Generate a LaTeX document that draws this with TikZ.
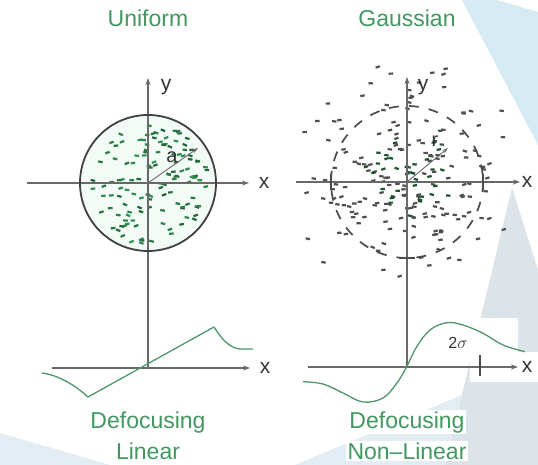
\documentclass[tikz,border=0pt]{standalone}
\usepackage{fontspec}
\setmainfont{Liberation Sans}
\usetikzlibrary{arrows.meta}
\definecolor{tgreen}{RGB}{66,152,96}
\definecolor{cgreen}{RGB}{78,150,108}
\definecolor{axisgray}{RGB}{105,105,105}
\definecolor{dotgreen}{RGB}{50,150,85}
\definecolor{dotgray}{RGB}{80,80,80}
\definecolor{bgblue}{RGB}{213,234,242}
\definecolor{bggray}{RGB}{221,228,233}
\definecolor{bglight}{RGB}{226,236,243}
\definecolor{mint}{RGB}{242,251,245}
\begin{document}
\begin{tikzpicture}[x=1pt,y=-1pt,
  title/.style={font=\fontsize{23}{25}\selectfont, text=tgreen, fill=white, inner sep=1.5pt, anchor=base},
  axlabel/.style={font=\fontsize{21}{23}\selectfont, text=black!80, inner sep=0pt},
  axisline/.style={draw=axisgray, line width=1.2pt, -{Stealth[length=7pt,width=5pt]}},
  curve/.style={draw=cgreen, line width=1.3pt, line join=round},
  radarrow/.style={draw=axisgray, line width=0.9pt, -{Stealth[length=6pt,width=4pt]}},
  tickmark/.style={draw=black!70, line width=2pt}]
\useasboundingbox (0,0) rectangle (538,465);
\fill[white] (0,0) rectangle (538,465);
% background shapes
\fill[bgblue] (462,0) -- (497,0) -- (538,12) -- (538,145) -- cycle;
\fill[bggray] (512,188) -- (538,270) -- (538,465) -- (445,465) -- cycle;
\fill[bglight] (295,465) -- (462,395) -- (445,465) -- cycle;
\fill[bglight] (0,433) -- (110,465) -- (0,465) -- cycle;
\fill[white] (470,318) rectangle (518,382);
\fill[white] (512,352) rectangle (538,382);

% ---------------- Uniform ----------------
\coordinate (LO) at (148,183);
\coordinate (LXs) at (27,183);
\coordinate (LXe) at (249,183);
\coordinate (LYt) at (148,78);
\coordinate (LO2) at (148,368);
\coordinate (LAe) at (198,148);
\fill[mint] (LO) circle (68);
\pgfmathsetseed{4711}
\foreach \i in {1,...,125}{
  \pgfmathsetmacro\ang{360*rnd}
  \pgfmathsetmacro\rad{61*sqrt(rnd)}
  \pgfmathsetmacro\rot{50*(rnd-0.5)}
  \pgfmathtruncatemacro\pct{65+35*rnd}
  \fill[dotgreen!\pct!black, shift={({148+\rad*cos(\ang)},{183+\rad*sin(\ang)})}, rotate=\rot] (-2.3,-1.1) rectangle (2.3,1.1);
}
\draw[axisline] (LXs) -- (LXe);
\draw[axisline] (LO2) -- (LYt);
\draw[draw=black!75, line width=1.8pt] (LO) circle (68);
\draw[radarrow] (LO) -- (LAe);
\node[axlabel] (lx) at (264,183) {x};
\node[axlabel] (ly) at (166,87) {y};
\node[axlabel, font=\fontsize{20}{22}\selectfont] (la) at (172,157) {a};

% lower left plot
\coordinate (LLXs) at (52,368);
\coordinate (LLXe) at (250,368);
\draw[axisline] (LLXs) -- (LLXe);
\node[axlabel] (llx) at (265,368) {x};
\draw[curve] (42,373) .. controls (58,375) and (75,385) .. (88,397) -- (214,327)
  .. controls (221,338) and (229,348) .. (240,349) -- (253,349);

% ---------------- Gaussian ----------------
\coordinate (RO) at (407,182);
\coordinate (RXs) at (296,182);
\coordinate (RXe) at (520,182);
\coordinate (RYt) at (407,77);
\coordinate (RO2) at (407,367);
\coordinate (RAe) at (448,148);
\foreach \i in {1,...,200}{
  \pgfmathsetmacro\ua{0.0005+0.9995*rnd}
  \pgfmathsetmacro\ang{360*rnd}
  \pgfmathsetmacro\rad{58*sqrt(-2*ln(\ua))}
  \pgfmathsetmacro\rot{40*(rnd-0.5)}
  \pgfmathsetmacro\px{407+\rad*cos(\ang)}
  \pgfmathsetmacro\py{182+\rad*sin(\ang)}
  \pgfmathtruncatemacro\ok{and(\rad<122,and(and(\px>304,\px<516),and(\py>62,\py<278)))}
  \ifnum\ok=1
    \fill[dotgray, shift={(\px,\py)}, rotate=\rot] (-2.2,-1.1) rectangle (2.2,1.1);
  \fi
}
\foreach \i in {1,...,35}{
  \pgfmathsetmacro\ua{0.0005+0.9995*rnd}
  \pgfmathsetmacro\ang{360*rnd}
  \pgfmathsetmacro\rad{22*sqrt(-2*ln(\ua))}
  \pgfmathsetmacro\rot{40*(rnd-0.5)}
  \fill[dotgreen!55!black, shift={({407+\rad*cos(\ang)},{182+\rad*sin(\ang)})}, rotate=\rot] (-2.2,-1.1) rectangle (2.2,1.1);
}
\draw[draw=black!70, line width=1.7pt, dash pattern=on 10pt off 10pt] (RO) circle (76);
\draw[axisline] (RXs) -- (RXe);
\draw[axisline] (RO2) -- (RYt);
\coordinate (tl1) at (331,174); \coordinate (tl2) at (331,190);
\coordinate (tr1) at (483,174); \coordinate (tr2) at (483,190);
\coordinate (tb1) at (399,258); \coordinate (tb2) at (415,258);
\draw[tickmark] (tl1) -- (tl2);
\draw[tickmark] (tr1) -- (tr2);
\draw[tickmark] (tb1) -- (tb2);
\draw[radarrow] (RO) -- (RAe);
\node[axlabel] (rx) at (527,182) {x};
\node[axlabel] (ry) at (423,87) {y};
\node[axlabel, font=\fontsize{20}{22}\selectfont] (rr) at (435,141) {r};

% lower right plot
\coordinate (LRXs) at (308,367);
\coordinate (LRXe) at (518,367);
\draw[axisline] (LRXs) -- (LRXe);
\coordinate (st1) at (480,355); \coordinate (st2) at (480,376);
\draw[tickmark] (st1) -- (st2);
\node[axlabel] (lrx) at (527,367) {x};
\draw[curve] plot[smooth, tension=0.6] coordinates {(303,381.7) (323,384) (343,393) (363,402) (383,398) (396.7,383.3) (406.7,366.7) (416.7,346.7) (430,330) (446.7,322.7) (463,325) (483,333.3) (503,345) (525,351.7)};
\node[axlabel, font=\fontsize{16}{18}\selectfont] (sig) at (458,343) {2$\sigma$};

% titles
\node[title] (tU) at (148,27) {Uniform};
\node[title] (tG) at (407,27) {Gaussian};
\node[title] (dL1) at (148,428) {Defocusing};
\node[title] (dL2) at (148,459) {Linear};
\node[title] (dR1) at (407,428) {Defocusing};
\node[title] (dR2) at (407,459) {Non--Linear};
\end{tikzpicture}
\end{document}
